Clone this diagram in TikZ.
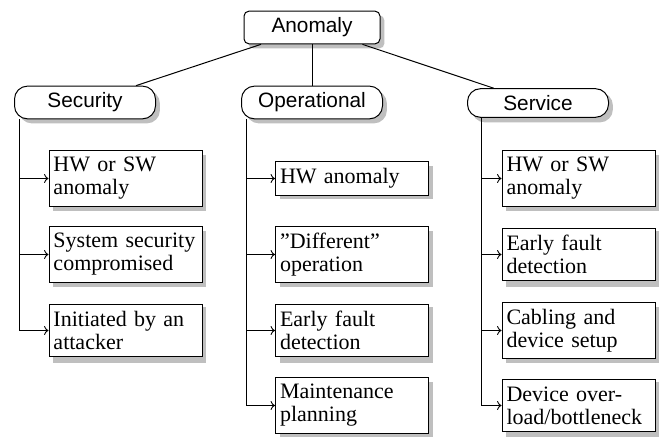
\documentclass[tikz,border=0pt]{standalone}
\usepackage{fontspec}
\setmainfont{Liberation Serif}
\setsansfont{Liberation Sans}
\usetikzlibrary{arrows.meta}
\begin{document}
\begin{tikzpicture}[x=0.5pt,y=-0.5pt,
  rootbox/.style={draw,line width=0.5pt,rounded corners=2.5pt,fill=white,font=\sffamily\fontsize{10.4}{12}\selectfont,minimum width=68pt},
  catbox/.style={draw,line width=0.5pt,rounded corners=6.5pt,fill=white,font=\sffamily\fontsize{10.4}{12}\selectfont,minimum width=70.5pt},
  leafbox/.style={draw,line width=0.5pt,fill=white,text width=72pt,inner xsep=2.25pt,align=left,font=\rmfamily\fontsize{11}{11.5}\selectfont},
  link/.style={line width=0.5pt},
  feed/.style={line width=0.45pt,-{To[length=2.2pt,width=4.5pt]}},
  shadowfill/.style={fill=black!25,draw=none}
]
\useasboundingbox (0,0) rectangle (659,437);

% drop shadows (drawn first, offset 4.4px right and down)
\fill[shadowfill,rounded corners=2.5pt] (312-68+4.4,27.5-16.5+4.4) rectangle (312+68+4.4,27.5+16.5+4.4);
\foreach \cx/\cy/\h in {85/102.5/16.5,312/102.5/16.5,538/103/15}
  \fill[shadowfill,rounded corners=6.5pt] (\cx-70.5+4.4,\cy-\h+4.4) rectangle (\cx+70.5+4.4,\cy+\h+4.4);
\foreach \cx/\cy/\h in {125.5/178.5/28,125.5/254.5/28,125.5/330.5/28,
                        352/178.5/16.5,352/254.5/28,352/330.5/28,352/405.5/28,
                        578.5/178.5/28,578.5/254.5/28,578.5/330.5/28,578.5/405.5/28}
  \fill[shadowfill] (\cx-76.5+4.4,\cy-\h+4.4) rectangle (\cx+76.5+4.4,\cy+\h+4.4);

\coordinate (rootc) at (312,27.5);
\coordinate (secc) at (85,102.5);
\coordinate (opec) at (312,102.5);
\coordinate (serc) at (538,103);

\node[rootbox] (anom) at (rootc) {Anomaly};
\node[catbox] (sec) at (secc) {Security};
\node[catbox] (ope) at (opec) {Operational};
\node[catbox] (ser) at (serc) {Service};

% leaves: Security
\node[leafbox] (s1) at (125.5,178.5) {HW or SW\\anomaly};
\node[leafbox] (s2) at (125.5,254.5) {System security\\compromised};
\node[leafbox] (s3) at (125.5,330.5) {Initiated by an\\attacker};

% leaves: Operational
\node[leafbox] (o1) at (352,178.5) {HW anomaly};
\node[leafbox] (o2) at (352,254.5) {”Different”\\operation};
\node[leafbox] (o3) at (352,330.5) {Early fault\\detection};
\node[leafbox] (o4) at (352,405.5) {Maintenance\\planning};

% leaves: Service
\node[leafbox] (v1) at (578.5,178.5) {HW or SW\\anomaly};
\node[leafbox] (v2) at (578.5,254.5) {Early fault\\detection};
\node[leafbox] (v3) at (578.5,330.5) {Cabling and\\device setup};
\node[leafbox] (v4) at (578.5,405.5) {Device over-\\load/bottleneck};

\draw[link] (anom) -- (sec);
\draw[link] (anom) -- (ope);
\draw[link] (anom) -- (ser);

% trunks
\coordinate (secT) at (19.5,119.5);
\coordinate (opeT) at (246,119.5);
\coordinate (serT) at (481.5,118.5);

\draw[feed] (secT) |- (s1.west);
\draw[feed] (secT) |- (s2.west);
\draw[feed] (secT) |- (s3.west);

\draw[feed] (opeT) |- (o1.west);
\draw[feed] (opeT) |- (o2.west);
\draw[feed] (opeT) |- (o3.west);
\draw[feed] (opeT) |- (o4.west);

\draw[feed] (serT) |- (v1.west);
\draw[feed] (serT) |- (v2.west);
\draw[feed] (serT) |- (v3.west);
\draw[feed] (serT) |- (v4.west);
\end{tikzpicture}
\end{document}
